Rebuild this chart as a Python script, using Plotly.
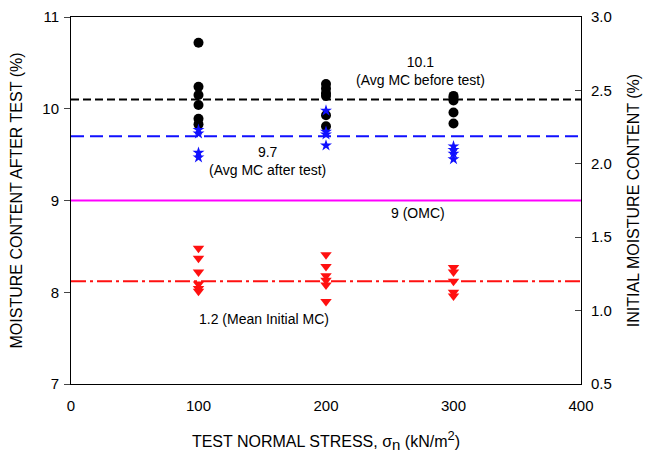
import plotly.graph_objects as go

# Data
x_black_100 = [100] * 6
y_black_100 = [10.72, 10.24, 10.15, 10.04, 9.89, 9.83]
x_black_200 = [200] * 6
y_black_200 = [10.27, 10.22, 10.17, 10.14, 9.93, 9.81]
x_black_300 = [300] * 5
y_black_300 = [10.14, 10.12, 10.09, 9.96, 9.84]

y_blue_100 = [9.77, 9.73, 9.52, 9.47]
y_blue_200 = [9.98, 9.75, 9.72, 9.60]
y_blue_300 = [9.59, 9.55, 9.51, 9.45]

y_red_100 = [8.48, 8.37, 8.22, 8.09, 8.04, 8.01]
y_red_200 = [8.41, 8.28, 8.18, 8.13, 8.08, 7.90]
y_red_300 = [8.27, 8.22, 8.12, 8.00, 7.96]

avg_mc_before = 10.1
avg_mc_after = 9.7
omc = 9.0
mean_initial_mc = 1.2  # right axis

x_line = [0, 400]

black_x = x_black_100 + x_black_200 + x_black_300
black_y = y_black_100 + y_black_200 + y_black_300
blue_x = [100] * len(y_blue_100) + [200] * len(y_blue_200) + [300] * len(y_blue_300)
blue_y = y_blue_100 + y_blue_200 + y_blue_300
red_x = [100] * len(y_red_100) + [200] * len(y_red_200) + [300] * len(y_red_300)
red_y = y_red_100 + y_red_200 + y_red_300

fig = go.Figure()

fig.add_trace(go.Scatter(x=x_line, y=[avg_mc_before] * 2, mode="lines",
                         line=dict(color="black", width=2, dash="8px,4px"), showlegend=False))
fig.add_trace(go.Scatter(x=x_line, y=[avg_mc_after] * 2, mode="lines",
                         line=dict(color="#1010ff", width=2, dash="13px,6px"), showlegend=False))
fig.add_trace(go.Scatter(x=x_line, y=[omc] * 2, mode="lines",
                         line=dict(color="#ff00ff", width=2), showlegend=False))
fig.add_trace(go.Scatter(x=x_line, y=[mean_initial_mc] * 2, mode="lines", yaxis="y2",
                         line=dict(color="#ff1010", width=2, dash="15px,4px,3px,4px"), showlegend=False))

fig.add_trace(go.Scatter(x=black_x, y=black_y, mode="markers",
                         marker=dict(symbol="circle", size=10, color="black"), showlegend=False))
fig.add_trace(go.Scatter(x=blue_x, y=blue_y, mode="markers",
                         marker=dict(symbol="star", size=9, color="#1010ff"), showlegend=False))
fig.add_trace(go.Scatter(x=red_x, y=red_y, mode="markers",
                         marker=dict(symbol="triangle-down", size=10, color="#ff1010"), showlegend=False))

font = "Liberation Sans, Arial, sans-serif"
fig.update_layout(
    width=652, height=455,
    margin=dict(l=71, r=71, t=17, b=71),
    paper_bgcolor="white", plot_bgcolor="white",
    font=dict(family=font, size=15, color="black"),
    xaxis=dict(range=[0, 400], tickvals=[0, 100, 200, 300, 400], ticks="",
               showline=True, linecolor="black", linewidth=1, mirror=True,
               showgrid=False, zeroline=False, ticklabelstandoff=8, automargin=False,
               title=dict(text='TEST NORMAL STRESS, σ<sub><span style="font-size:15px">n</span></sub> (kN/m<sup><span style="font-size:13px">2</span></sup>)',
                          font=dict(size=16), standoff=22)),
    yaxis=dict(range=[7, 11], tickvals=[7, 8, 9, 10, 11], ticks="outside", ticklen=6,
               showline=True, linecolor="black", linewidth=1, automargin=False,
               showgrid=False, zeroline=False, ticklabelstandoff=2,
               title=dict(text="MOISTURE CONTENT AFTER TEST (%)", font=dict(size=16), standoff=15)),
    yaxis2=dict(range=[0.5, 3.0], tickvals=[0.5, 1.0, 1.5, 2.0, 2.5, 3.0], tickformat=".1f",
                overlaying="y", side="right", ticks="inside", ticklen=6, automargin=False,
                showline=True, linecolor="black", linewidth=1, ticklabelstandoff=6,
                showgrid=False, zeroline=False,
                title=dict(text="INITIAL MOISTURE CONTENT (%)", font=dict(size=16), standoff=16)),
)

fig.add_annotation(x=274, y=10.41, text="10.1<br>(Avg MC before test)", showarrow=False,
                   font=dict(size=14))
fig.add_annotation(x=154, y=9.43, text="9.7<br>(Avg MC after test)", showarrow=False,
                   font=dict(size=14))
fig.add_annotation(x=272, y=8.86, text="9 (OMC)", showarrow=False, font=dict(size=14))
fig.add_annotation(x=151, y=7.71, text="1.2 (Mean Initial MC)", showarrow=False, font=dict(size=14))

fig.write_html("out.html")
